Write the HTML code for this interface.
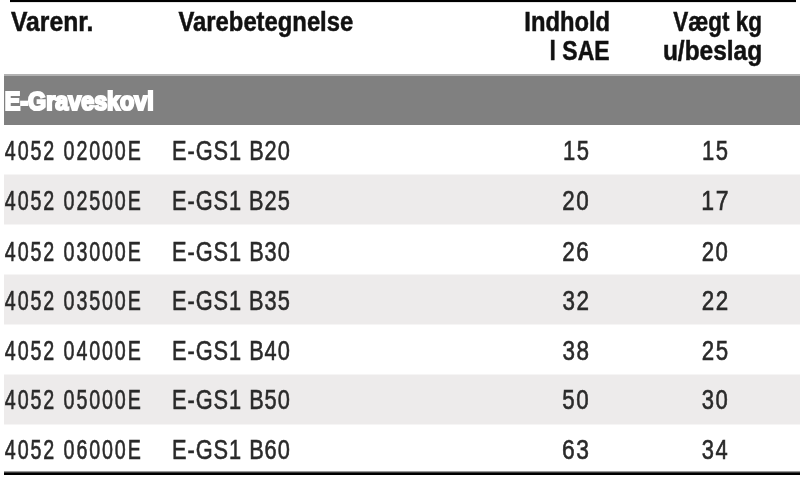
<!DOCTYPE html><html lang="da"><head><meta charset="utf-8"><title>E-Graveskovl</title><style>
html,body{margin:0;padding:0;background:#fff;}
body{width:800px;height:483px;position:relative;overflow:hidden;font-family:"Liberation Sans",sans-serif;}
.r{position:absolute;}
.t{position:absolute;white-space:nowrap;transform-origin:0 0;line-height:normal;filter:blur(0.4px);}
</style></head><body>
<div class="r" style="left:10.2px;top:0;width:785.4px;height:2px;background:#000"></div>
<div class="r" style="left:10.2px;top:2px;width:785.4px;height:1px;background:#e6e6e6"></div>
<div class="r" style="left:4px;top:74px;width:796px;height:50.5px;background:#808080"></div>
<div class="r" style="left:4px;top:74px;width:796px;height:2px;background:#b2b2b2"></div>
<div class="r" style="left:4px;top:174px;width:796px;height:51px;background:#f6f5f5"></div>
<div class="r" style="left:4px;top:175px;width:796px;height:49px;background:#edebeb"></div>
<div class="r" style="left:4px;top:274px;width:796px;height:51px;background:#f6f5f5"></div>
<div class="r" style="left:4px;top:275px;width:796px;height:49px;background:#edebeb"></div>
<div class="r" style="left:4px;top:374px;width:796px;height:51px;background:#f6f5f5"></div>
<div class="r" style="left:4px;top:375px;width:796px;height:49px;background:#edebeb"></div>
<div class="r" style="left:4px;top:471px;width:796px;height:1px;background:#9a9a9a"></div>
<div class="r" style="left:4px;top:472px;width:796px;height:1px;background:#3a3a3a"></div>
<div class="r" style="left:4px;top:473px;width:796px;height:2px;background:#000"></div>
<span class="t" style="left:0;top:0;font-size:27.1px;font-weight:700;color:#111111;transform:translate(11.01px,6.00px) scaleX(0.9111);-webkit-text-stroke:0.5px #111111;">Varenr.</span>
<span class="t" style="left:0;top:0;font-size:27.1px;font-weight:700;color:#111111;transform:translate(178.53px,6.00px) scaleX(0.8787);-webkit-text-stroke:0.5px #111111;">Varebetegnelse</span>
<span class="t" style="left:0;top:0;font-size:27.1px;font-weight:700;color:#111111;transform:translate(524.37px,6.00px) scaleX(0.8767);-webkit-text-stroke:0.5px #111111;">Indhold</span>
<span class="t" style="left:0;top:0;font-size:27.1px;font-weight:700;color:#111111;transform:translate(549.62px,35.00px) scaleX(0.8468);-webkit-text-stroke:0.5px #111111;">l SAE</span>
<span class="t" style="left:0;top:0;font-size:27.1px;font-weight:700;color:#111111;transform:translate(673.36px,6.00px) scaleX(0.8295);-webkit-text-stroke:0.5px #111111;">Vægt kg</span>
<span class="t" style="left:0;top:0;font-size:27.1px;font-weight:700;color:#111111;transform:translate(662.91px,35.00px) scaleX(0.9031);-webkit-text-stroke:0.5px #111111;">u/beslag</span>
<span class="t" style="left:0;top:0;font-size:25.0px;font-weight:700;color:#ffffff;transform:translate(4.83px,87.00px) scaleX(0.9315);-webkit-text-stroke:2.2px #ffffff;">E-Graveskovl</span>
<span class="t" style="left:0;top:0;font-size:27.0px;font-weight:400;color:#2a2a2a;transform:translate(4.87px,136.00px) scaleX(0.7283);letter-spacing:2.6px;-webkit-text-stroke:0.6px #2a2a2a;">4052 02000E</span>
<span class="t" style="left:0;top:0;font-size:27.0px;font-weight:400;color:#2a2a2a;transform:translate(172.04px,136.00px) scaleX(0.8055);letter-spacing:1.2px;-webkit-text-stroke:0.6px #2a2a2a;">E-GS1 B20</span>
<span class="t" style="left:0;top:0;font-size:27.0px;font-weight:400;color:#2a2a2a;transform:translate(562.94px,136.00px) scaleX(0.8141);letter-spacing:1.9px;-webkit-text-stroke:0.6px #2a2a2a;">15</span>
<span class="t" style="left:0;top:0;font-size:27.0px;font-weight:400;color:#2a2a2a;transform:translate(701.94px,136.00px) scaleX(0.8141);letter-spacing:1.9px;-webkit-text-stroke:0.6px #2a2a2a;">15</span>
<span class="t" style="left:0;top:0;font-size:27.0px;font-weight:400;color:#2a2a2a;transform:translate(4.87px,186.00px) scaleX(0.7283);letter-spacing:2.6px;-webkit-text-stroke:0.6px #2a2a2a;">4052 02500E</span>
<span class="t" style="left:0;top:0;font-size:27.0px;font-weight:400;color:#2a2a2a;transform:translate(172.04px,186.00px) scaleX(0.8052);letter-spacing:1.2px;-webkit-text-stroke:0.6px #2a2a2a;">E-GS1 B25</span>
<span class="t" style="left:0;top:0;font-size:27.0px;font-weight:400;color:#2a2a2a;transform:translate(562.28px,186.00px) scaleX(0.8291);letter-spacing:1.9px;-webkit-text-stroke:0.6px #2a2a2a;">20</span>
<span class="t" style="left:0;top:0;font-size:27.0px;font-weight:400;color:#2a2a2a;transform:translate(701.22px,186.00px) scaleX(0.8527);letter-spacing:1.9px;-webkit-text-stroke:0.6px #2a2a2a;">17</span>
<span class="t" style="left:0;top:0;font-size:27.0px;font-weight:400;color:#2a2a2a;transform:translate(4.87px,237.00px) scaleX(0.7283);letter-spacing:2.6px;-webkit-text-stroke:0.6px #2a2a2a;">4052 03000E</span>
<span class="t" style="left:0;top:0;font-size:27.0px;font-weight:400;color:#2a2a2a;transform:translate(172.04px,237.00px) scaleX(0.8055);letter-spacing:1.2px;-webkit-text-stroke:0.6px #2a2a2a;">E-GS1 B30</span>
<span class="t" style="left:0;top:0;font-size:27.0px;font-weight:400;color:#2a2a2a;transform:translate(562.27px,237.00px) scaleX(0.8320);letter-spacing:1.9px;-webkit-text-stroke:0.6px #2a2a2a;">26</span>
<span class="t" style="left:0;top:0;font-size:27.0px;font-weight:400;color:#2a2a2a;transform:translate(701.70px,237.00px) scaleX(0.8197);letter-spacing:1.9px;-webkit-text-stroke:0.6px #2a2a2a;">20</span>
<span class="t" style="left:0;top:0;font-size:27.0px;font-weight:400;color:#2a2a2a;transform:translate(4.87px,286.00px) scaleX(0.7283);letter-spacing:2.6px;-webkit-text-stroke:0.6px #2a2a2a;">4052 03500E</span>
<span class="t" style="left:0;top:0;font-size:27.0px;font-weight:400;color:#2a2a2a;transform:translate(172.04px,286.00px) scaleX(0.8052);letter-spacing:1.2px;-webkit-text-stroke:0.6px #2a2a2a;">E-GS1 B35</span>
<span class="t" style="left:0;top:0;font-size:27.0px;font-weight:400;color:#2a2a2a;transform:translate(562.42px,286.00px) scaleX(0.8298);letter-spacing:1.9px;-webkit-text-stroke:0.6px #2a2a2a;">32</span>
<span class="t" style="left:0;top:0;font-size:27.0px;font-weight:400;color:#2a2a2a;transform:translate(701.64px,286.00px) scaleX(0.8285);letter-spacing:1.9px;-webkit-text-stroke:0.6px #2a2a2a;">22</span>
<span class="t" style="left:0;top:0;font-size:27.0px;font-weight:400;color:#2a2a2a;transform:translate(4.87px,336.00px) scaleX(0.7283);letter-spacing:2.6px;-webkit-text-stroke:0.6px #2a2a2a;">4052 04000E</span>
<span class="t" style="left:0;top:0;font-size:27.0px;font-weight:400;color:#2a2a2a;transform:translate(172.04px,336.00px) scaleX(0.8055);letter-spacing:1.2px;-webkit-text-stroke:0.6px #2a2a2a;">E-GS1 B40</span>
<span class="t" style="left:0;top:0;font-size:27.0px;font-weight:400;color:#2a2a2a;transform:translate(562.41px,336.00px) scaleX(0.8308);letter-spacing:1.9px;-webkit-text-stroke:0.6px #2a2a2a;">38</span>
<span class="t" style="left:0;top:0;font-size:27.0px;font-weight:400;color:#2a2a2a;transform:translate(701.66px,336.00px) scaleX(0.8257);letter-spacing:1.9px;-webkit-text-stroke:0.6px #2a2a2a;">25</span>
<span class="t" style="left:0;top:0;font-size:27.0px;font-weight:400;color:#2a2a2a;transform:translate(4.87px,385.00px) scaleX(0.7283);letter-spacing:2.6px;-webkit-text-stroke:0.6px #2a2a2a;">4052 05000E</span>
<span class="t" style="left:0;top:0;font-size:27.0px;font-weight:400;color:#2a2a2a;transform:translate(172.04px,385.00px) scaleX(0.8055);letter-spacing:1.2px;-webkit-text-stroke:0.6px #2a2a2a;">E-GS1 B50</span>
<span class="t" style="left:0;top:0;font-size:27.0px;font-weight:400;color:#2a2a2a;transform:translate(562.28px,385.00px) scaleX(0.8265);letter-spacing:1.9px;-webkit-text-stroke:0.6px #2a2a2a;">50</span>
<span class="t" style="left:0;top:0;font-size:27.0px;font-weight:400;color:#2a2a2a;transform:translate(701.83px,385.00px) scaleX(0.8151);letter-spacing:1.9px;-webkit-text-stroke:0.6px #2a2a2a;">30</span>
<span class="t" style="left:0;top:0;font-size:27.0px;font-weight:400;color:#2a2a2a;transform:translate(4.87px,435.00px) scaleX(0.7283);letter-spacing:2.6px;-webkit-text-stroke:0.6px #2a2a2a;">4052 06000E</span>
<span class="t" style="left:0;top:0;font-size:27.0px;font-weight:400;color:#2a2a2a;transform:translate(172.04px,435.00px) scaleX(0.8055);letter-spacing:1.2px;-webkit-text-stroke:0.6px #2a2a2a;">E-GS1 B60</span>
<span class="t" style="left:0;top:0;font-size:27.0px;font-weight:400;color:#2a2a2a;transform:translate(561.99px,435.00px) scaleX(0.8452);letter-spacing:1.9px;-webkit-text-stroke:0.6px #2a2a2a;">63</span>
<span class="t" style="left:0;top:0;font-size:27.0px;font-weight:400;color:#2a2a2a;transform:translate(701.72px,435.00px) scaleX(0.8111);letter-spacing:1.9px;-webkit-text-stroke:0.6px #2a2a2a;">34</span>
</body></html>
